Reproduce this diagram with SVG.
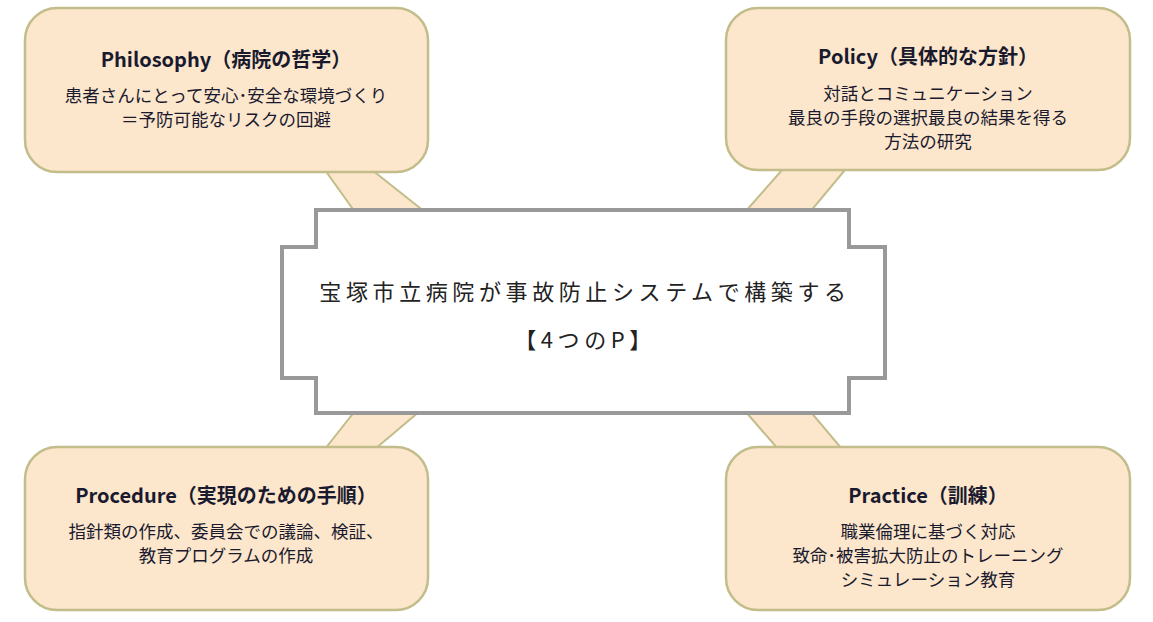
<svg xmlns="http://www.w3.org/2000/svg" width="1153" height="622" viewBox="0 0 1153 622">
<style>
.box{fill:#fce6cc;stroke:#c2bd8a;stroke-width:2.5}
.band{fill:#fce6cc;stroke:#c2bd8a;stroke-width:2}
.t{font-family:"Noto Sans CJK JP","Noto Sans",sans-serif;fill:#1a1a2e;text-anchor:middle}
.h{font-size:20px;font-weight:bold}
.b{font-size:17.5px}
.c{font-family:"Noto Sans CJK JP",sans-serif;font-size:22px;letter-spacing:4.6px;fill:#222;text-anchor:middle}
</style>
<rect width="1153" height="622" fill="#fff"/>
<g id="connectors">
<polygon class="band" points="325,170 372,170 425,212 355,212"/>
<polygon class="band" points="782,170 845,170 810,212 745,212"/>
<polygon class="band" points="355,411 420,411 375,449 325,449"/>
<polygon class="band" points="745,411 810,411 842,449 778,449"/>
</g>
<g id="philosophy">
<rect class="box" x="25" y="8" width="403" height="164" rx="32"/>
<text class="t h" x="226" y="67">Philosophy（病院の哲学）</text>
<text class="t b" x="226" y="102">患者さんにとって安心･安全な環境づくり</text>
<text class="t b" x="226" y="126">＝予防可能なリスクの回避</text>
</g>
<g id="policy">
<rect class="box" x="726" y="8" width="404" height="162" rx="32"/>
<text class="t h" x="928" y="64">Policy（具体的な方針）</text>
<text class="t b" x="928" y="100">対話とコミュニケーション</text>
<text class="t b" x="928" y="124">最良の手段の選択最良の結果を得る</text>
<text class="t b" x="928" y="148">方法の研究</text>
</g>
<g id="center">
<polygon points="316,210 849,210 849,247 885,247 885,378 849,378 849,413 316,413 316,378 282,378 282,247 316,247" fill="#fff" stroke="#999" stroke-width="4"/>
<text class="c" x="585" y="300">宝塚市立病院が事故防止システムで構築する</text>
<text class="c" x="585" y="348">【4つのP】</text>
</g>
<g id="procedure">
<rect class="box" x="25" y="447" width="403" height="163" rx="32"/>
<text class="t h" x="226" y="503">Procedure（実現のための手順）</text>
<text class="t b" x="226" y="538">指針類の作成、委員会での議論、検証、</text>
<text class="t b" x="226" y="562">教育プログラムの作成</text>
</g>
<g id="practice">
<rect class="box" x="726" y="447" width="404" height="163" rx="32"/>
<text class="t h" x="928" y="503">Practice（訓練）</text>
<text class="t b" x="928" y="538">職業倫理に基づく対応</text>
<text class="t b" x="928" y="562">致命･被害拡大防止のトレーニング</text>
<text class="t b" x="928" y="586">シミュレーション教育</text>
</g>
</svg>
